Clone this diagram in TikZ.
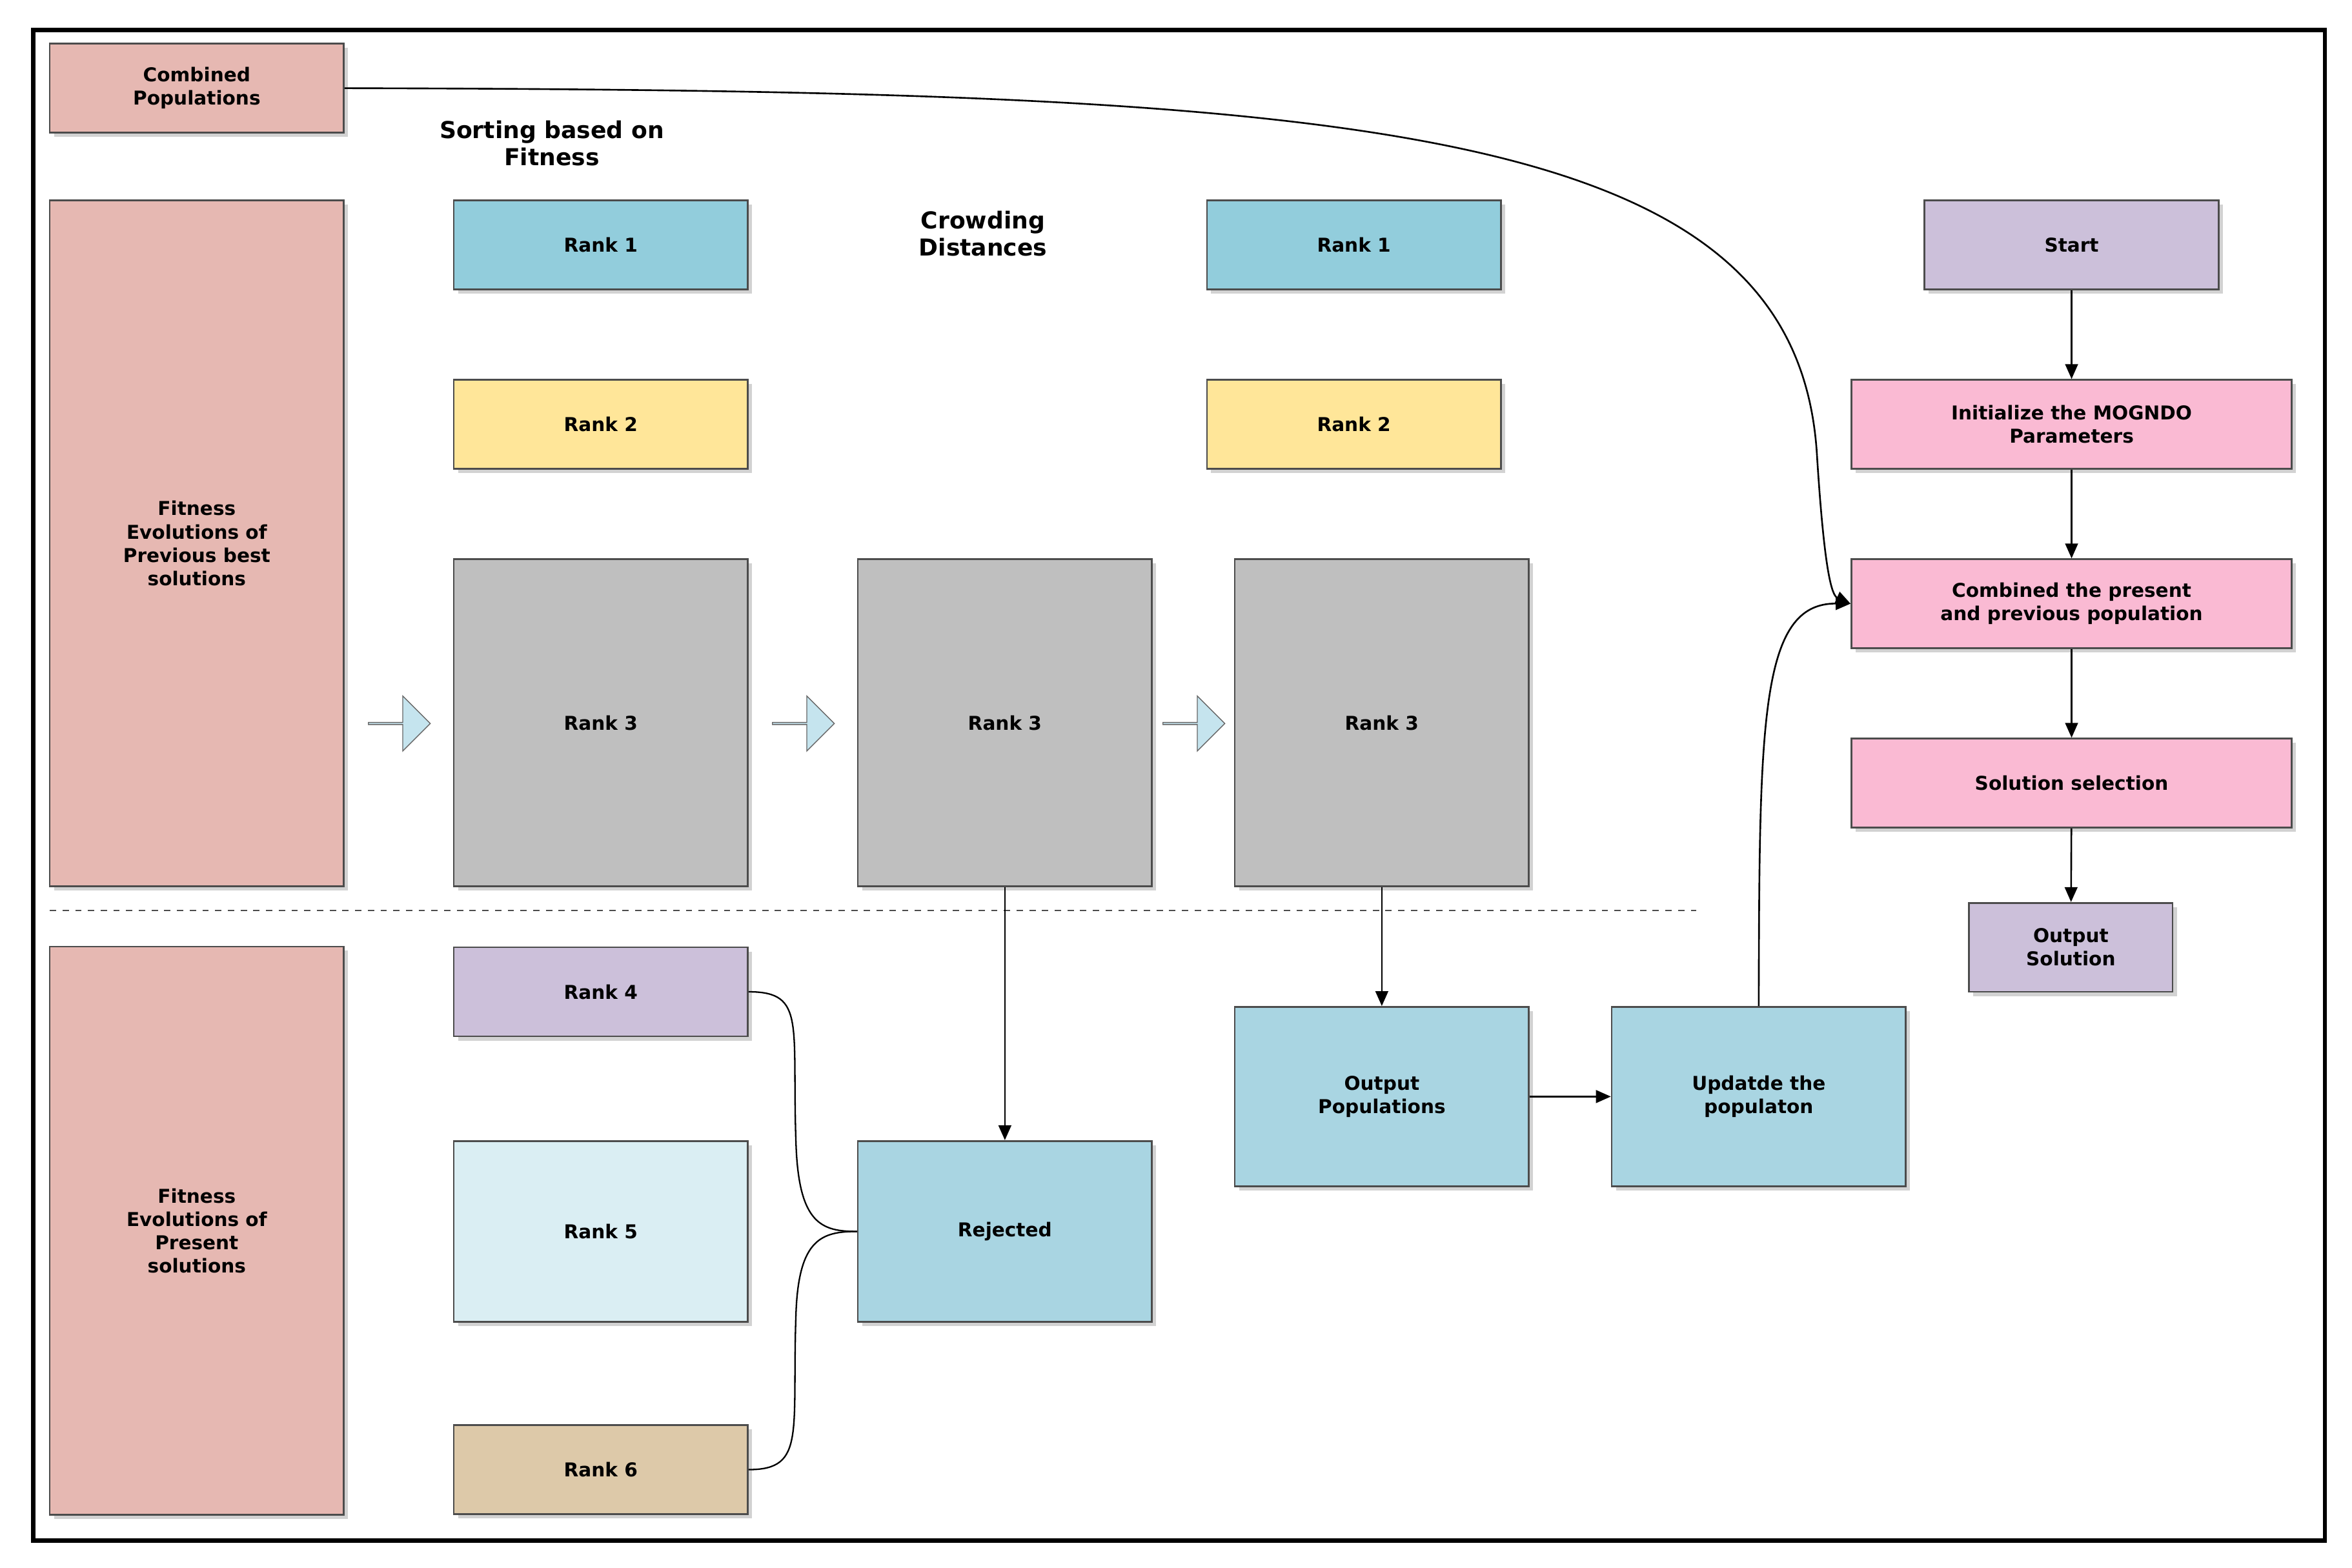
\documentclass[tikz,border=0pt]{standalone}
\usepackage{fontspec}
\setmainfont{DejaVu Sans}
\usetikzlibrary{shadows,shapes.arrows,arrows.meta}
\definecolor{pinkb}{HTML}{E6B8B2}
\definecolor{blueb}{HTML}{92CDDC}
\definecolor{yel}{HTML}{FFE699}
\definecolor{gr}{HTML}{BFBFBF}
\definecolor{lav}{HTML}{CCC0DA}
\definecolor{lblue}{HTML}{DAEEF3}
\definecolor{tan}{HTML}{DDC9A9}
\definecolor{rej}{HTML}{A9D5E2}
\definecolor{mag}{HTML}{FABAD3}
\definecolor{arr}{HTML}{C5E4EE}
\begin{document}
\begin{tikzpicture}[x=0.025cm,y=-0.025cm,
 bx/.style={draw=black!70,line width=0.8pt,drop shadow={shadow xshift=2pt,shadow yshift=-2pt,opacity=0.35},font=\bfseries\fontsize{9}{11}\selectfont,align=center,inner sep=0pt},
 fl/.style={-{Triangle[length=7pt,width=6pt]},line width=0.8pt},
 ln/.style={line width=0.7pt},
 barr/.style={single arrow,draw=black!60,fill=arr,minimum height=73\pgflinewidth,single arrow head extend=5pt,minimum width=26pt,inner sep=0pt}]
\useasboundingbox (0,0) rectangle (1560,1040);
\fill[white] (0,0) rectangle (1560,1040);
\draw[line width=2pt] (22,20) rectangle (1542,1022);
\newcommand{\bb}[6]{\path (#1,#2) rectangle (#3,#4); \node[bx,fill=#5,minimum width=(#3-#1)*0.025cm,minimum height=(#4-#2)*0.025cm] (#6) at ({(#1+#3)/2},{(#2+#4)/2}) {};}
\node[bx,fill=pinkb,minimum width=4.875cm,minimum height=1.475cm] (cp) at (130.5,58.5) {Combined\\Populations};
\node[bx,fill=pinkb,minimum width=4.875cm,minimum height=11.375cm] (fp) at (130.5,360.5) {Fitness\\Evolutions of\\Previous best\\solutions};
\node[bx,fill=pinkb,minimum width=4.875cm,minimum height=9.425cm] (fq) at (130.5,816.5) {Fitness\\Evolutions of\\Present\\solutions};
\node[font=\bfseries\fontsize{11}{13}\selectfont,align=center] (sf) at (366,95) {Sorting based on\\Fitness};
\node[font=\bfseries\fontsize{11}{13}\selectfont,align=center] (cd) at (652,155) {Crowding\\Distances};
\tikzset{rk/.style={bx,minimum width=4.875cm,minimum height=1.475cm}}
\node[rk,fill=blueb] (r1a) at (398.5,162.5) {Rank 1};
\node[rk,fill=yel] (r2a) at (398.5,281.5) {Rank 2};
\node[rk,fill=gr,minimum height=5.425cm] (r3a) at (398.5,479.5) {Rank 3};
\node[rk,fill=gr,minimum height=5.425cm] (r3b) at (666.5,479.5) {Rank 3};
\node[rk,fill=blueb] (r1c) at (898,162.5) {Rank 1};
\node[rk,fill=yel] (r2c) at (898,281.5) {Rank 2};
\node[rk,fill=gr,minimum height=5.425cm] (r3c) at (916.5,479.5) {Rank 3};
\node[rk,fill=lav] (r4) at (398.5,658) {Rank 4};
\node[rk,fill=lblue,minimum height=3cm] (r5) at (398.5,817) {Rank 5};
\node[rk,fill=tan] (r6) at (398.5,975) {Rank 6};
\node[rk,fill=rej,minimum height=3cm] (rj) at (666.5,817) {Rejected};
\node[rk,fill=rej,minimum height=2.975cm] (op) at (916.5,727.5) {Output\\Populations};
\node[rk,fill=rej,minimum height=2.975cm] (up) at (1166.5,727.5) {Updatde the\\populaton};
\node[rk,fill=lav] (st) at (1374,162.5) {Start};
\node[rk,fill=mag,minimum width=7.3cm] (in) at (1374,281.5) {Initialize the MOGNDO\\Parameters};
\node[rk,fill=mag,minimum width=7.3cm] (cb) at (1374,400.5) {Combined the present\\and previous population};
\node[rk,fill=mag,minimum width=7.3cm] (ss) at (1374,519.5) {Solution selection};
\node[rk,fill=lav,minimum width=3.375cm] (os) at (1373.5,628.5) {Output\\Solution};
\node[barr] (a1) at (264.5,480) {};
\node[barr] (a2) at (532.5,480) {};
\node[barr] (a3) at (791.5,480) {};
\draw[dashed,line width=0.8pt,black!70] (33,604) -- (1125,604);
\draw[fl] (r3b) -- (rj);
\draw[fl] (r3c) -- (op);
\draw[fl] (op) -- (up);
\draw[fl] (st) -- (in);
\draw[fl] (in) -- (cb);
\draw[fl] (cb) -- (ss);
\draw[fl] (ss) -- (os);
\draw[fl] (up.north) .. controls (1167,480) and (1167,400) .. (cb.west);
\draw[fl] (cp.east) .. controls (900,60) and (1190,80) .. (1205,300) .. controls (1210,380) and (1215,395) .. (cb.west);
\draw[ln] (r4.east) .. controls (535,658) and (525,680) .. (528,760) .. controls (530,812) and (545,817) .. (rj.west);
\draw[ln] (r6.east) .. controls (535,975) and (525,950) .. (528,870) .. controls (530,822) and (545,817) .. (rj.west);
\end{tikzpicture}
\end{document}
